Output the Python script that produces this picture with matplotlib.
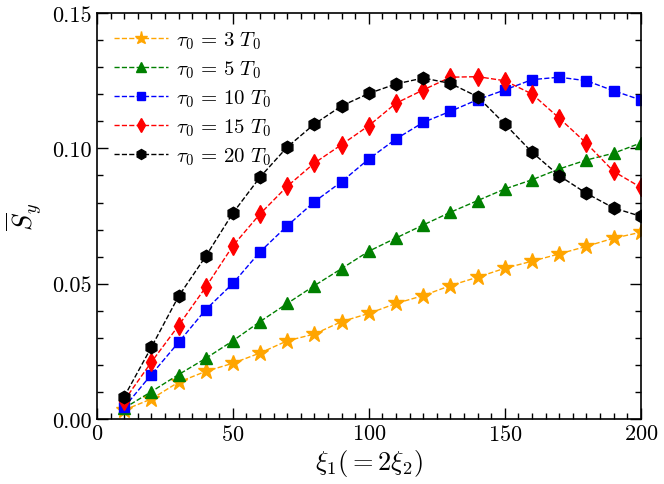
import numpy as np
import matplotlib
matplotlib.use('Agg')
import matplotlib.pyplot as plt
from matplotlib.ticker import MultipleLocator

plt.rcParams['font.family'] = 'serif'
plt.rcParams['font.serif'] = ['cmr10']
plt.rcParams['mathtext.fontset'] = 'cm'
plt.rcParams['axes.formatter.use_mathtext'] = True

## Data
xi = [10, 20, 30, 40, 50, 60, 70, 80, 90, 100,
      110, 120, 130, 140, 150, 160, 170, 180, 190, 200]
s_tau3 = [0.0033, 0.0074, 0.0136, 0.0176, 0.0206, 0.0244, 0.0289, 0.0314,
          0.0360, 0.0390, 0.0427, 0.0456, 0.0493, 0.0524, 0.0557, 0.0583,
          0.0610, 0.0638, 0.0668, 0.0690]
s_tau5 = [0.0040, 0.0101, 0.0164, 0.0224, 0.0289, 0.0360, 0.0427, 0.0493,
          0.0556, 0.0620, 0.0669, 0.0717, 0.0764, 0.0807, 0.0850, 0.0884,
          0.0924, 0.0957, 0.0982, 0.1020]
s_tau10 = [0.0043, 0.0164, 0.0283, 0.0404, 0.0501, 0.0618, 0.0714, 0.0803,
           0.0877, 0.0961, 0.1035, 0.1096, 0.1137, 0.1180, 0.1216, 0.1254,
           0.1263, 0.1250, 0.1213, 0.1179]
s_tau15 = [0.0068, 0.0210, 0.0345, 0.0487, 0.0640, 0.0758, 0.0860, 0.0946,
           0.1014, 0.1084, 0.1167, 0.1216, 0.1263, 0.1265, 0.1250, 0.1201,
           0.1112, 0.1019, 0.0915, 0.0856]
s_tau20 = [0.0082, 0.0265, 0.0453, 0.0601, 0.0761, 0.0894, 0.1005, 0.1090,
           0.1157, 0.1203, 0.1238, 0.1260, 0.1240, 0.1191, 0.1090, 0.0986,
           0.0899, 0.0834, 0.0780, 0.0749]

series = [(s_tau3, 'orange', '*', 12, r'$\tau_0\,=\,3\ T_0$'),
          (s_tau5, 'green', '^', 9, r'$\tau_0\,=\,5\ T_0$'),
          (s_tau10, 'blue', 's', 7, r'$\tau_0\,=\,10\ T_0$'),
          (s_tau15, 'red', 'd', 9, r'$\tau_0\,=\,15\ T_0$'),
          (s_tau20, 'black', 'h', 9, r'$\tau_0\,=\,20\ T_0$')]

fig = plt.figure(figsize=(6.64, 4.85), dpi=100)
ax = fig.add_axes([0.146, 0.134, 0.819, 0.837])

for vals, col, mk, ms, lab in series:
    ax.plot(xi, vals, linestyle='--', color=col, marker=mk, markersize=ms,
            linewidth=1.0, label=lab)

ax.set_xlim(0, 200)
ax.set_ylim(0, 0.15)
ax.xaxis.set_major_locator(MultipleLocator(50))
ax.xaxis.set_minor_locator(MultipleLocator(5))
ax.yaxis.set_major_locator(MultipleLocator(0.05))
ax.yaxis.set_minor_locator(MultipleLocator(0.01))
ax.yaxis.set_major_formatter(matplotlib.ticker.FormatStrFormatter('%.2f'))
ax.tick_params(which='both', direction='in', top=True, right=True,
               labelsize=16, width=1.0)
ax.tick_params(which='major', length=8)
ax.tick_params(which='minor', length=4)
for sp in ax.spines.values():
    sp.set_linewidth(1.2)

ax.set_xlabel(r'$\xi_1(=2\xi_2)$', fontsize=19, labelpad=2)
ax.set_ylabel(r'$\overline{S}_y$', fontsize=19, labelpad=6)

ax.legend(loc='upper left', frameon=False, fontsize=15, handlelength=2.6,
          handletextpad=0.4, labelspacing=0.35, borderaxespad=0.4,
          markerscale=0.8)

plt.savefig('out.png', dpi=100)
